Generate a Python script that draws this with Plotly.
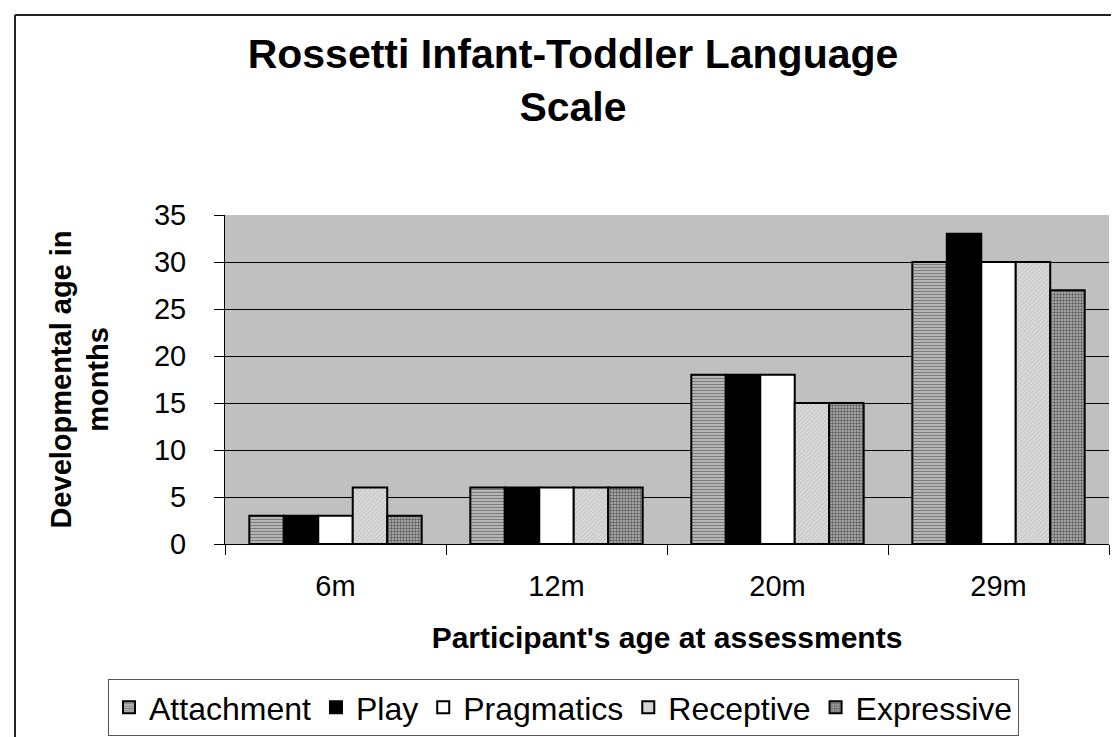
import plotly.graph_objects as go

categories = ["6m", "12m", "20m", "29m"]
attachment = [3, 6, 18, 30]
play = [3, 6, 18, 33]
pragmatics = [3, 6, 18, 30]
receptive = [6, 6, 15, 30]
expressive = [3, 6, 15, 27]
y_ticks = [0, 5, 10, 15, 20, 25, 30, 35]

W, H = 1119, 737
ML, MR, MT, MB = 217, 18, 207, 201
PW, PH = W - ML - MR, H - MT - MB
FONT = "Liberation Sans, Arial, sans-serif"

series = [
    ("Attachment", attachment, dict(color="#c8c8c8", pattern=dict(shape="-", fgcolor="#303030", bgcolor="#c8c8c8", size=3, solidity=0.5))),
    ("Play", play, dict(color="#000000")),
    ("Pragmatics", pragmatics, dict(color="#ffffff")),
    ("Receptive", receptive, dict(color="#d4d4d4", pattern=dict(shape="/", fgcolor="#9a9a9a", bgcolor="#dcdcdc", size=3, solidity=0.3))),
    ("Expressive", expressive, dict(color="#a0a0a0", pattern=dict(shape=".", fgcolor="#000000", bgcolor="#b8b8b8", size=3, solidity=0.5))),
]

fig = go.Figure()
for name, vals, mk in series:
    mk = dict(mk)
    mk["line"] = dict(color="#000000", width=2)
    fig.add_trace(go.Bar(name=name, x=categories, y=vals, marker=mk))

fig.update_layout(
    width=W, height=H,
    margin=dict(l=ML, r=MR, t=MT, b=MB, autoexpand=False),
    paper_bgcolor="#ffffff",
    plot_bgcolor="#c0c0c0",
    barmode="group",
    bargap=0.22,
    bargroupgap=0,
    font=dict(family=FONT, color="#000000"),
    title=dict(
        text="<b>Rossetti Infant-Toddler Language<br>Scale</b>",
        x=565 / W, xanchor="center", xref="container",
        y=1 - 60 / H, yanchor="top", yref="container",
        font=dict(size=41, family=FONT, color="#000000"),
    ),
    xaxis=dict(
        showline=True, linecolor="#000000", linewidth=1,
        ticks="outside", tickson="boundaries", ticklen=10, tickcolor="#000000", tickwidth=1,
        tickfont=dict(size=29, family=FONT),
        ticklabelstandoff=16,
        title=dict(text="<b>Participant's age at assessments</b>", font=dict(size=30, family=FONT), standoff=26),
        showgrid=False,
    ),
    yaxis=dict(
        range=[0, 35], tickvals=y_ticks,
        showline=True, linecolor="#000000", linewidth=1,
        ticks="outside", ticklen=10, tickcolor="#000000", tickwidth=1,
        tickfont=dict(size=29, family=FONT),
        ticklabelstandoff=22,
        showgrid=True, gridcolor="#000000", gridwidth=1,
        zeroline=False,
        title=dict(text="<b>Developmental age in<br>months</b>", font=dict(size=29, family=FONT), standoff=36),
    ),
    legend=dict(
        orientation="h",
        xref="paper", yref="paper",
        x=(100 - ML) / PW, xanchor="left",
        y=-(671 - (MT + PH)) / PH, yanchor="top",
        bordercolor="#555555", borderwidth=1,
        bgcolor="#ffffff",
        font=dict(size=32, family=FONT),
        traceorder="normal",
        itemwidth=30,
    ),
)

# outer chart-area border (left and top edges visible in the reference)
bx = (7 - ML) / PW
by = 1 + (MT - 7) / PH
fig.add_shape(type="line", xref="paper", yref="paper", x0=bx, x1=bx, y0=by, y1=-(H + 5 - MT - PH) / PH - 0.05,
              line=dict(color="#222222", width=2))
fig.add_shape(type="line", xref="paper", yref="paper", x0=bx, x1=1 + (MR + 10) / PW, y0=by, y1=by,
              line=dict(color="#222222", width=2))

fig.write_html("out.html")
